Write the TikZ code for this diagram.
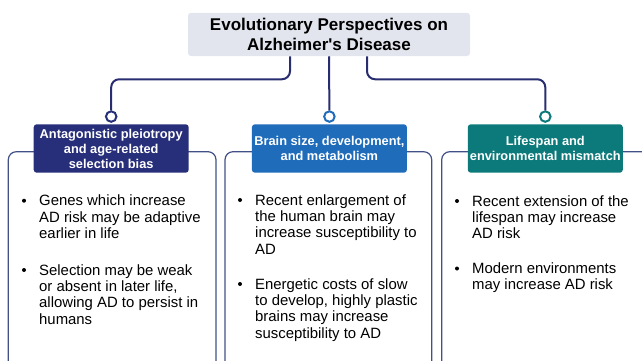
\documentclass[tikz,border=0pt]{standalone}
\usepackage{fontspec}
\setmainfont{Liberation Sans}
\usepackage{tikz}
\definecolor{navy}{RGB}{39,47,122}
\definecolor{brainblue}{RGB}{30,108,186}
\definecolor{lifeteal}{RGB}{12,122,122}
\definecolor{linknavy}{RGB}{40,45,112}
\definecolor{boxline}{RGB}{66,80,136}
\definecolor{titlegray}{RGB}{227,229,238}

\begin{document}
\begin{tikzpicture}[x=1pt, y=-1pt,
    link/.style={draw=linknavy, line width=2pt, rounded corners=8pt},
    headbox/.style={rounded corners=3pt, text=white, align=center, minimum width=155pt,
      minimum height=48.4pt, inner sep=0pt, font=\fontsize{12.8}{15}\selectfont\bfseries},
    pin/.style={circle, draw=#1, line width=2pt, fill=white, minimum size=10.5pt, inner sep=0pt},
    panel/.style={draw=boxline, line width=1.2pt, rounded corners=8pt},
    itemtext/.style={anchor=north west, inner sep=0pt, align=left,
      font=\fontsize{14.9}{16.3}\selectfont}
  ]
    \useasboundingbox (0,0) rectangle (642,360);
    \clip (0,0) rectangle (642,360);

    \node (title) [fill=titlegray, rounded corners=3pt, minimum width=282pt, minimum height=43.3pt,
      inner sep=0pt, align=center, font=\fontsize{17}{20.7}\selectfont\bfseries]
      at (329, 34.4) {Evolutionary Perspectives on\\Alzheimer\textquotesingle s Disease};

    % open panels, running off the bottom
    \draw[panel] (8.3,151.7) rectangle (216,400);
    \draw[panel] (225,151.7) rectangle (431.7,400);
    \draw[panel] (441.7,151.7) rectangle (680,400);

    % the three headings with their pins
    \foreach \cx/\col/\txt [count=\i from 0] in {
        111.2/navy/{Antagonistic pleiotropy\\and age-related\\selection bias},
        329.4/brainblue/{Brain size, development,\\and metabolism},
        545.3/lifeteal/{Lifespan and\\environmental mismatch}} {
        \node (head-\i) [headbox, fill=\col] at (\cx, 148.5) {\txt};
        \node (dot-\i) [pin=\col, above=1.3pt] at (head-\i.north) {};
    }

    \draw[link] ([xshift=-39pt]title.south) -- ++(0,23) -| (dot-0.north);
    \draw[link] (title.south) -- (dot-1.north);
    \draw[link] ([xshift=38pt]title.south) -- ++(0,23) -| (dot-2.north);

    % bullet points
    \foreach \x/\y/\txt [count=\k] in {
        39/194.8/{Genes which increase\\AD risk may be adaptive\\earlier in life},
        39/264.1/{Selection may be weak\\or absent in later life,\\allowing AD to persist in\\humans},
        255/194.1/{Recent enlargement of\\the human brain may\\increase susceptibility to\\AD},
        255/278.1/{Energetic costs of slow\\to develop, highly plastic\\brains may increase\\susceptibility to AD},
        472/195.1/{Recent extension of the\\lifespan may increase\\AD risk},
        472/262.6/{Modern environments\\may increase AD risk}} {
        \node (item-\k) [itemtext] at (\x, \y) {\txt};
        \fill ([xshift=-15pt, yshift=-5.9pt]item-\k.north west) circle (2pt);
    }
\end{tikzpicture}
\end{document}
